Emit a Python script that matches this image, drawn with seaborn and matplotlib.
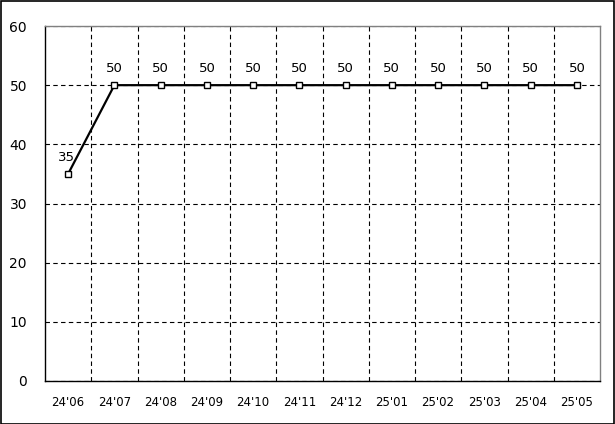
import numpy as np
import pandas as pd
import matplotlib
matplotlib.use("Agg")
import matplotlib.pyplot as plt
import seaborn as sns

months = ["24'06", "24'07", "24'08", "24'09", "24'10", "24'11",
          "24'12", "25'01", "25'02", "25'03", "25'04", "25'05"]
values = [35, 50, 50, 50, 50, 50, 50, 50, 50, 50, 50, 50]
y_ticks = [0, 10, 20, 30, 40, 50, 60]

df = pd.DataFrame({"idx": np.arange(len(months)), "value": values})

sns.set_style("white")
plt.rcParams["font.family"] = ["DejaVu Sans"]
plt.rcParams["text.color"] = "black"
plt.rcParams["xtick.color"] = "black"
plt.rcParams["ytick.color"] = "black"

fig = plt.figure(figsize=(6.15, 4.24), dpi=100)
ax = fig.add_axes([45 / 615, 43 / 424, 555 / 615, 355 / 424])

sns.lineplot(data=df, x="idx", y="value", ax=ax, color="black", linewidth=1.6,
             marker="s", markersize=5, markerfacecolor="white",
             markeredgecolor="black", markeredgewidth=1)

# data labels
for i, v in enumerate(values):
    dx = -0.04 if i == 0 else 0
    ax.annotate(str(v), (i + dx, v), xytext=(0, 7), textcoords="offset points",
                ha="center", va="bottom", fontsize=9.5, color="black")

ax.set_xlim(-0.5, len(months) - 0.5)
ax.set_ylim(0, 60)
ax.set_xticks(np.arange(len(months)))
ax.set_xticklabels(months, fontsize=8.5)
ax.set_yticks(y_ticks)
ax.set_yticklabels([str(t) for t in y_ticks], fontsize=10)
ax.set_xticks(np.arange(0.5, len(months) - 0.5), minor=True)
ax.tick_params(axis="both", which="both", length=0, colors="black")
ax.tick_params(axis="x", pad=11)
ax.tick_params(axis="y", pad=13)
ax.set_xlabel("")
ax.set_ylabel("")

ax.grid(False)
ax.xaxis.grid(True, which="minor", color="black", linestyle=(0, (4, 3)), linewidth=0.8)
ax.yaxis.grid(True, which="major", color="black", linestyle=(0, (4, 3)), linewidth=0.8)
ax.set_axisbelow(True)

for side in ["left", "bottom"]:
    ax.spines[side].set_color("black")
    ax.spines[side].set_linewidth(1)
for side in ["top", "right"]:
    ax.spines[side].set_color("#808080")
    ax.spines[side].set_linewidth(1)

# outer border
fig.patches.append(plt.Rectangle((0.001, 0.001), 0.997, 0.996, transform=fig.transFigure,
                                 fill=False, edgecolor="black", linewidth=1.2))

fig.savefig("out.png", dpi=100)
